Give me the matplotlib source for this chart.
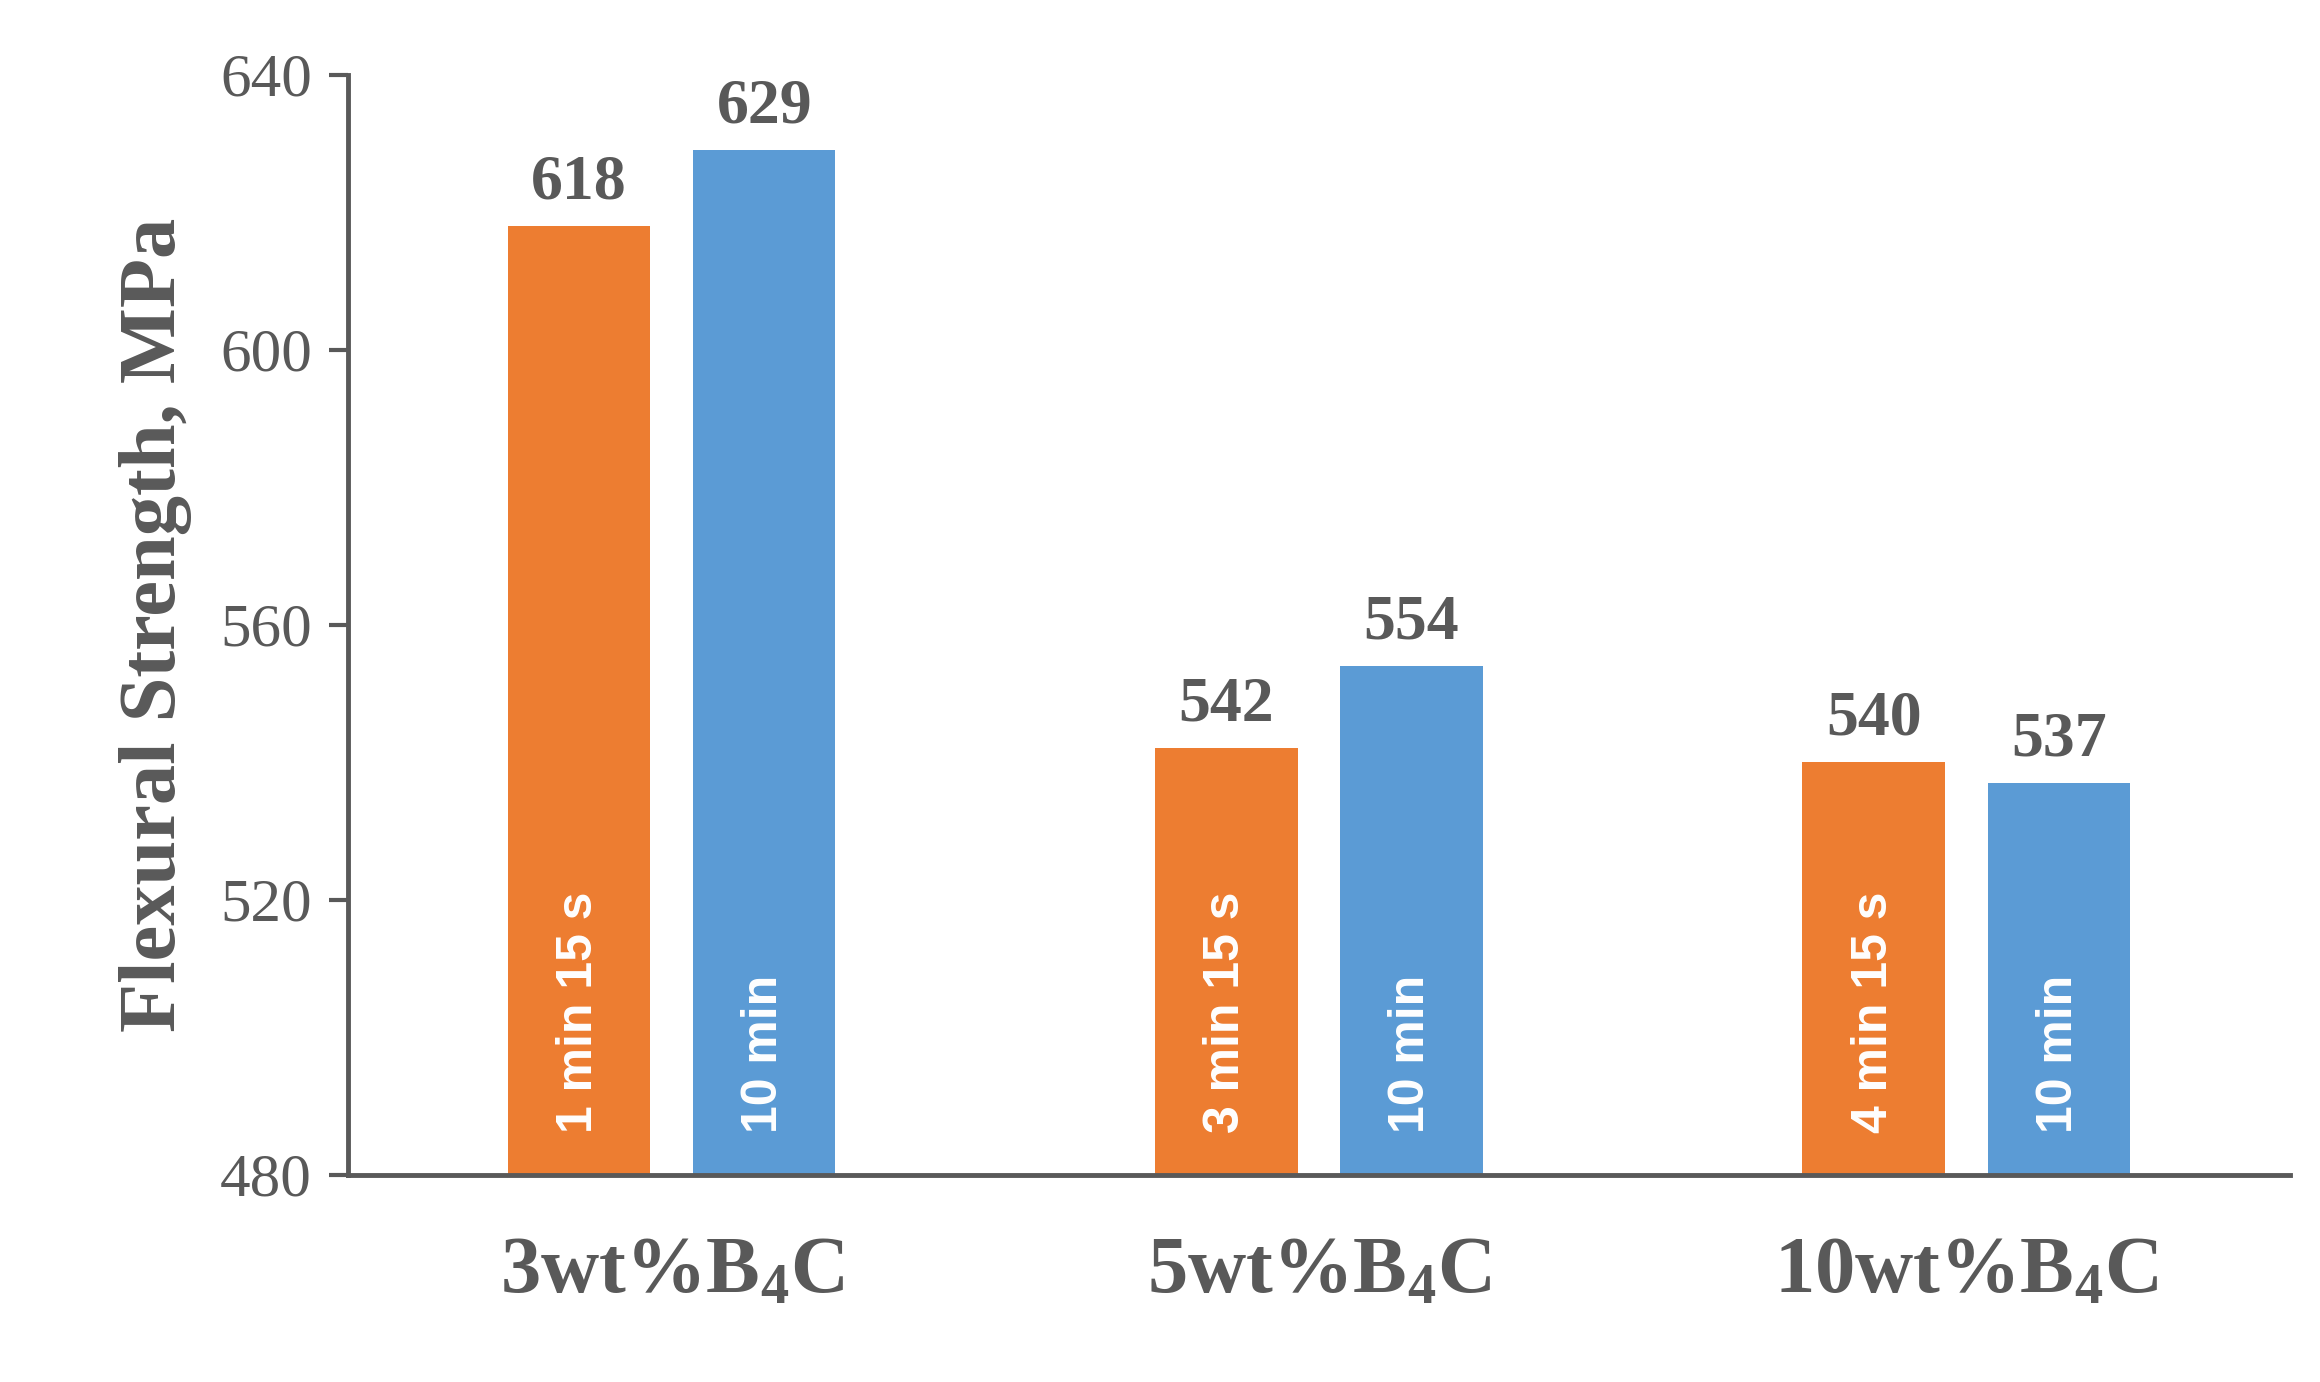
import matplotlib
matplotlib.use("Agg")
import matplotlib.pyplot as plt
import numpy as np

categories = ["3wt%B$_4$C", "5wt%B$_4$C", "10wt%B$_4$C"]
short_vals = [618, 542, 540]
long_vals = [629, 554, 537]
short_labels = ["1 min 15 s", "3 min 15 s", "4 min 15 s"]
long_labels = ["10 min", "10 min", "10 min"]
yticks = [480, 520, 560, 600, 640]

plt.rcParams['mathtext.default'] = 'regular'
serif = 'Liberation Serif'
grey = '#595959'
orange = '#ED7D31'
blue = '#5B9BD5'

fig = plt.figure(figsize=(23.2, 13.82), dpi=100)
ax = fig.add_axes([0.150, 0.150, 0.837, 0.796])
x = np.arange(len(categories))
w = 0.22
off = 0.143
ax.bar(x - off, short_vals, w, color=orange)
ax.bar(x + off, long_vals, w, color=blue)
for xi, v, l in zip(x - off, short_vals, short_labels):
    ax.text(xi, v + 2, str(v), ha='center', va='bottom', fontsize=46, fontweight='bold', color=grey, family=serif)
    ax.text(xi, 486, l, rotation=90, ha='center', va='bottom', fontsize=36, fontweight='bold', color='white', family='Liberation Sans')
for xi, v, l in zip(x + off, long_vals, long_labels):
    ax.text(xi, v + 2, str(v), ha='center', va='bottom', fontsize=46, fontweight='bold', color=grey, family=serif)
    ax.text(xi, 486, l, rotation=90, ha='center', va='bottom', fontsize=36, fontweight='bold', color='white', family='Liberation Sans')

ax.set_xlim(-0.5, 2.5)
ax.set_ylim(480, 640)
ax.set_yticks(yticks)
ax.set_yticklabels([str(t) for t in yticks], fontsize=44, color=grey, family=serif)
ax.set_xticks(x)
ax.set_xticklabels(categories, fontsize=58, fontweight='bold', color=grey, family=serif)
ax.tick_params(axis='x', length=0, pad=45)
ax.tick_params(axis='y', length=14, width=3, color=grey, direction='out', pad=12)
for s in ['top', 'right']:
    ax.spines[s].set_visible(False)
for s in ['left', 'bottom']:
    ax.spines[s].set_color(grey)
    ax.spines[s].set_linewidth(3.5)
ax.set_ylabel("Flexural Strength, MPa", fontsize=58, fontweight='bold', color=grey, family=serif, labelpad=20)
fig.savefig("out.png", dpi=100)
